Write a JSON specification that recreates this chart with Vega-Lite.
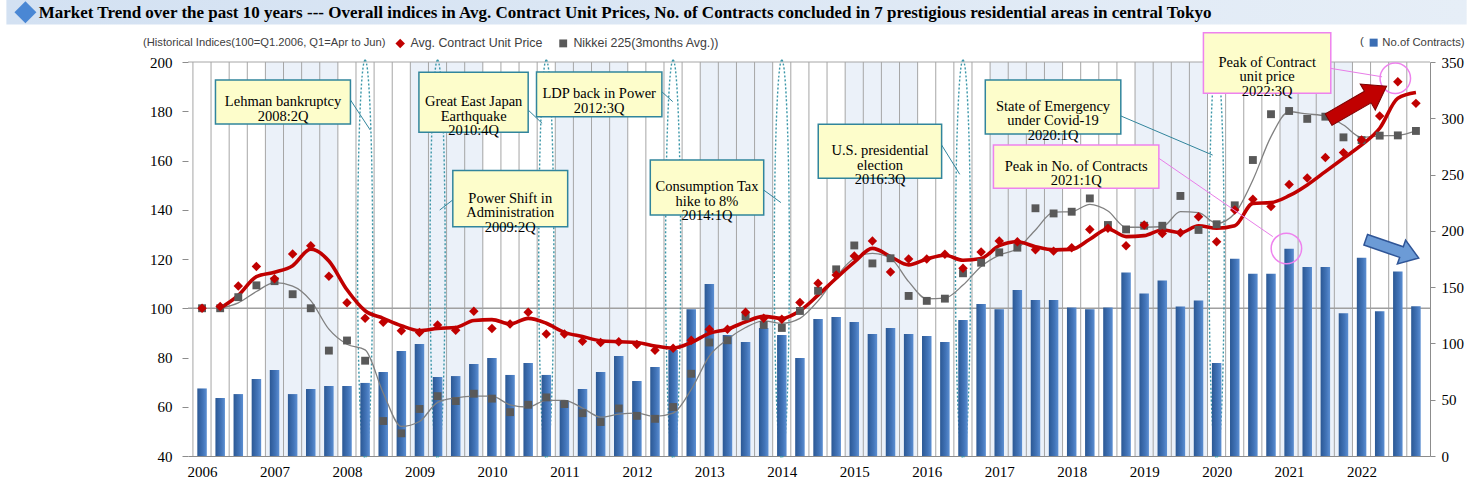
{
"$schema":"https://vega.github.io/schema/vega-lite/v6.json",
"width":1242,"height":394,
"autosize":{"type":"none"},
"padding":{"left":188,"top":62,"right":42,"bottom":28},
"background":"white",
"config":{"view":{"stroke":null},"font":"Liberation Serif"},
"datasets":{
"one":[{}],
"main":[
{"q":0,"p":100,"k":100,"pt":null,"kt":null,"n":60},
{"q":1,"p":100.7,"k":100,"pt":100,"kt":100,"n":51.5},
{"q":2,"p":109,"k":104.5,"pt":105.2,"kt":102.2,"n":55},
{"q":3,"p":117,"k":109.3,"pt":112.8,"kt":106.8,"n":68.4},
{"q":4,"p":112,"k":111,"pt":114.6,"kt":110.4,"n":76.4},
{"q":5,"p":122,"k":105.7,"pt":117.3,"kt":109,"n":55},
{"q":6,"p":125.4,"k":100,"pt":124,"kt":103.1,"n":59.5},
{"q":7,"p":113,"k":82.8,"pt":119.2,"kt":91.5,"n":62.2},
{"q":8,"p":102.2,"k":86.9,"pt":107.5,"kt":85.4,"n":62.2},
{"q":9,"p":95.9,"k":78.7,"pt":99,"kt":83.1,"n":64.9},
{"q":10,"p":94.3,"k":54.2,"pt":95.9,"kt":65.6,"n":74.6},
{"q":11,"p":90.9,"k":49.2,"pt":92.9,"kt":52,"n":93.3},
{"q":12,"p":90.2,"k":59.1,"pt":90.9,"kt":54,"n":99.5},
{"q":13,"p":93.2,"k":64.3,"pt":91.8,"kt":61.8,"n":70.2},
{"q":14,"p":91.1,"k":62.3,"pt":92.2,"kt":63.6,"n":71},
{"q":15,"p":98.8,"k":65.3,"pt":95,"kt":64.3,"n":81.7},
{"q":16,"p":91.8,"k":63.3,"pt":95.4,"kt":64.3,"n":87},
{"q":17,"p":93.6,"k":57.8,"pt":93.6,"kt":60.8,"n":72},
{"q":18,"p":98.4,"k":60.8,"pt":95.9,"kt":59.9,"n":82.6},
{"q":19,"p":89.5,"k":63.8,"pt":93.9,"kt":62.6,"n":72},
{"q":20,"p":89.5,"k":61.1,"pt":90.2,"kt":62.6,"n":49},
{"q":21,"p":86.6,"k":57.4,"pt":88.5,"kt":59.5,"n":59.5},
{"q":22,"p":86.1,"k":53.8,"pt":86.8,"kt":55.8,"n":74.6},
{"q":23,"p":86.4,"k":59.3,"pt":86.4,"kt":57,"n":88.8},
{"q":24,"p":85.3,"k":56.3,"pt":86.1,"kt":57.4,"n":66.6},
{"q":25,"p":82.9,"k":55.1,"pt":84.7,"kt":56.1,"n":79.1},
{"q":26,"p":83.8,"k":59.9,"pt":83.8,"kt":57.4,"n":94.2},
{"q":27,"p":87,"k":73.4,"pt":86.1,"kt":67,"n":130.3},
{"q":28,"p":91.5,"k":86.1,"pt":89.8,"kt":80.6,"n":152.8},
{"q":29,"p":91.5,"k":87,"pt":91.5,"kt":87.4,"n":107.5},
{"q":30,"p":98.4,"k":96.7,"pt":94.5,"kt":92.2,"n":101.3},
{"q":31,"p":95.9,"k":93.2,"pt":96.7,"kt":94.9,"n":113.7},
{"q":32,"p":95.5,"k":92,"pt":95.9,"kt":93.9,"n":107.5},
{"q":33,"p":102.3,"k":98.9,"pt":99,"kt":95.9,"n":87.1},
{"q":34,"p":110.2,"k":107.1,"pt":105.3,"kt":103,"n":121.7},
{"q":35,"p":113.5,"k":115.8,"pt":112.2,"kt":112.8,"n":123.5},
{"q":36,"p":121.2,"k":125.5,"pt":118.7,"kt":120.3,"n":119},
{"q":37,"p":127.3,"k":118.2,"pt":124.3,"kt":122.3,"n":108.4},
{"q":38,"p":114.7,"k":120.3,"pt":121,"kt":120.3,"n":113.7},
{"q":39,"p":120,"k":105,"pt":117.6,"kt":110.8,"n":108.4},
{"q":40,"p":120,"k":103,"pt":120,"kt":103.8,"n":106.6},
{"q":41,"p":121.9,"k":103.9,"pt":121.5,"kt":104.1,"n":101.3},
{"q":42,"p":116.2,"k":114.2,"pt":119.5,"kt":109.4,"n":120.8},
{"q":43,"p":122.8,"k":118.5,"pt":120.2,"kt":117,"n":135},
{"q":44,"p":127.3,"k":122.7,"pt":125.4,"kt":121.6,"n":130.3},
{"q":45,"p":127,"k":124.6,"pt":127,"kt":124.3,"n":147.5},
{"q":46,"p":123.8,"k":140.6,"pt":125,"kt":131.8,"n":138.6},
{"q":47,"p":123.2,"k":138.5,"pt":123.7,"kt":139,"n":138.6},
{"q":48,"p":124.6,"k":139.2,"pt":123.9,"kt":139.2,"n":132},
{"q":49,"p":132,"k":144.6,"pt":128,"kt":142.2,"n":130.3},
{"q":50,"p":132.5,"k":133.8,"pt":132.2,"kt":139.5,"n":132},
{"q":51,"p":125.4,"k":132,"pt":129.1,"kt":132.9,"n":163},
{"q":52,"p":133.8,"k":133.5,"pt":129.5,"kt":132.9,"n":144.4},
{"q":53,"p":130.4,"k":133.5,"pt":131.8,"kt":133.1,"n":155.9},
{"q":54,"p":130.7,"k":145.6,"pt":130.7,"kt":139.2,"n":132.9},
{"q":55,"p":137.2,"k":131.8,"pt":133.5,"kt":138.8,"n":138.2},
{"q":56,"p":127,"k":134.1,"pt":132.5,"kt":134.5,"n":82.6},
{"q":57,"p":139.9,"k":141.8,"pt":133.5,"kt":138.5,"n":175.3},
{"q":58,"p":144.3,"k":160.2,"pt":142.6,"kt":152.1,"n":162},
{"q":59,"p":141.3,"k":178.8,"pt":142.9,"kt":169.7,"n":162},
{"q":60,"p":150.3,"k":180.1,"pt":145.7,"kt":179.8,"n":184},
{"q":61,"p":152.9,"k":176.9,"pt":150.1,"kt":178.9,"n":168},
{"q":62,"p":161.2,"k":177.8,"pt":155.5,"kt":178.1,"n":168},
{"q":63,"p":163.2,"k":169.4,"pt":160.9,"kt":174.4,"n":126.8},
{"q":64,"p":168.3,"k":168.3,"pt":166.3,"kt":169.4,"n":176},
{"q":65,"p":178.1,"k":170.1,"pt":173.1,"kt":170,"n":128.5},
{"q":66,"p":192,"k":170.2,"pt":185.3,"kt":170.2,"n":163.8},
{"q":67,"p":183.2,"k":172,"pt":187.6,"kt":172,"n":133}
],
"shade":[
{"year":2007,"start":4,"end":7},{"year":2009,"start":12,"end":15},{"year":2011,"start":20,"end":23},{"year":2013,"start":28,"end":31},
{"year":2015,"start":36,"end":39},{"year":2017,"start":44,"end":47},{"year":2019,"start":52,"end":55},{"year":2021,"start":60,"end":63}
],
"notes":[
{"kind":"event","q":9,"lines":["Lehman bankruptcy","2008:2Q"],"x1":0.74,"x2":8.19,"y1":192.7,"y2":174.8,"tx":4.47,"ty":183.6,"lx1":8.19,"ly1":184.6,"lx2":9.28,"ly2":172.4},
{"kind":"event","q":19,"lines":["Great East Japan","Earthquake","2010:4Q"],"x1":11.97,"x2":18.0,"y1":195.8,"y2":171.5,"tx":14.99,"ty":183.6,"lx1":18.0,"ly1":180.5,"lx2":18.77,"ly2":175.1},
{"kind":"event","q":26,"lines":["LDP back in Power","2012:3Q"],"x1":18.46,"x2":25.38,"y1":195.9,"y2":177.8,"tx":21.92,"ty":186.9,"lx1":25.38,"ly1":187.9,"lx2":25.98,"ly2":183.9},
{"kind":"event","q":13,"lines":["Power Shift in","Administration","2009:2Q"],"x1":13.84,"x2":20.18,"y1":155.9,"y2":133.1,"tx":17.01,"ty":144.5,"lx1":13.84,"ly1":144,"lx2":13.12,"ly2":139.9},
{"kind":"event","q":32,"lines":["Consumption Tax","hike to 8%","2014:1Q"],"x1":24.74,"x2":31.0,"y1":160.2,"y2":137.9,"tx":27.87,"ty":149.05,"lx1":31.0,"ly1":148,"lx2":31.95,"ly2":142.9},
{"kind":"event","q":42,"lines":["U.S. presidential","election","2016:3Q"],"x1":34.01,"x2":40.82,"y1":174.7,"y2":152.8,"tx":37.42,"ty":163.75,"lx1":40.82,"ly1":166.3,"lx2":41.82,"ly2":154.4},
{"kind":"event","q":56,"lines":["State of Emergency","under Covid-19","2020:1Q"],"x1":43.23,"x2":50.71,"y1":192.7,"y2":170.8,"tx":46.97,"ty":181.75,"lx1":50.71,"ly1":178.1,"lx2":55.78,"ly2":162.2},
{"kind":"peak","q":60,"lines":["Peak in No. of Contracts","2021:1Q"],"x1":43.68,"x2":52.81,"y1":166.3,"y2":148.7,"tx":48.25,"ty":157.5,"lx1":52.81,"ly1":160.9,"lx2":59.1,"ly2":129.1,"cx":59.85,"cy":124.3},
{"kind":"peak","q":66,"lines":["Peak of Contract","unit price","2022:3Q"],"x1":55.27,"x2":62.3,"y1":211.9,"y2":187.3,"tx":58.79,"ty":199.6,"lx1":62.3,"ly1":197.4,"lx2":65.13,"ly2":194,"cx":65.86,"cy":193.4}
]
},
"layer":[
{"data":{"name":"shade"},
 "mark":{"type":"rect","xOffset":-9.13,"x2Offset":9.13,"color":"#EBF1F9"},
 "encoding":{
  "x":{"field":"start","type":"quantitative","scale":{"domain":[-0.5,67.5],"nice":false,"zero":false},"axis":null},
  "x2":{"field":"end"},
  "y":{"datum":40,"type":"quantitative","scale":{"domain":[40,200],"nice":false,"zero":false},"axis":null},
  "y2":{"datum":200}}},
{"data":{"name":"main"},
 "mark":{"type":"rule","xOffset":-9.13,"color":"#A6A6A6","strokeWidth":1},
 "encoding":{
  "x":{"field":"q","type":"quantitative","scale":{"domain":[-0.5,67.5],"nice":false,"zero":false},
       "axis":{"orient":"bottom","values":[0,4,8,12,16,20,24,28,32,36,40,44,48,52,56,60,64],"labelExpr":"'' + (2006 + datum.value/4)","title":null,"ticks":false,"grid":false,"domain":true,"domainColor":"#8C8C8C","domainWidth":1,"labelFont":"Liberation Serif","labelFontSize":15,"labelColor":"black","labelPadding":8,"labelOverlap":false,"labelFlush":false}},
  "y":{"datum":40,"type":"quantitative","scale":{"domain":[40,200],"nice":false,"zero":false},
       "axis":{"orient":"left","values":[40,60,80,100,120,140,160,180,200],"title":null,"domain":false,"grid":false,"ticks":true,"tickSize":6,"tickColor":"#8C8C8C","labelFont":"Liberation Serif","labelFontSize":15,"labelColor":"black","labelPadding":10}},
  "y2":{"datum":200}}},
{"data":{"name":"one"},
 "mark":{"type":"rule","color":"#A0A0A0","strokeWidth":1.5},
 "encoding":{"y":{"datum":100,"type":"quantitative","scale":{"domain":[40,200],"nice":false,"zero":false},"axis":null}}},
{"data":{"name":"one"},
 "mark":{"type":"rule","color":"#A6A6A6","strokeWidth":1},
 "encoding":{"y":{"datum":200,"type":"quantitative","scale":{"domain":[40,200],"nice":false,"zero":false},"axis":null}}},
{"data":{"name":"one"},
 "mark":{"type":"rect","color":{"gradient":"linear","x1":0,"y1":0,"x2":1,"y2":0,"stops":[{"offset":0,"color":"#D3E1F2"},{"offset":1,"color":"#E6EEF7"}]}},
 "encoding":{
  "x":{"datum":-10.8,"type":"quantitative","scale":{"domain":[-0.5,67.5],"nice":false,"zero":false},"axis":null},
  "x2":{"datum":69.8},
  "y":{"datum":225.2,"type":"quantitative","scale":{"domain":[40,200],"nice":false,"zero":false},"axis":null},
  "y2":{"datum":215.2}}},
{"data":{"name":"one"},
 "mark":{"type":"point","shape":"diamond","filled":true,"size":480,"color":"#4A87D4","opacity":1},
 "encoding":{
  "x":{"datum":-9.75,"type":"quantitative","scale":{"domain":[-0.5,67.5],"nice":false,"zero":false},"axis":null},
  "y":{"datum":220.2,"type":"quantitative","scale":{"domain":[40,200],"nice":false,"zero":false},"axis":null}}},
{"data":{"name":"one"},
 "mark":{"type":"text","text":"Market Trend over the past 10 years --- Overall indices in Avg. Contract Unit Prices, No. of Contracts concluded in 7 prestigious residential areas in central Tokyo","align":"left","baseline":"middle","font":"Liberation Serif","fontWeight":"bold","fontSize":17,"color":"black"},
 "encoding":{
  "x":{"datum":-9.02,"type":"quantitative","scale":{"domain":[-0.5,67.5],"nice":false,"zero":false},"axis":null},
  "y":{"datum":220.0,"type":"quantitative","scale":{"domain":[40,200],"nice":false,"zero":false},"axis":null}}},
{"data":{"name":"notes"},
 "transform":[{"filter":"datum.kind == 'event'"}],
 "mark":{"type":"point","filled":false,"shape":"M 0 -1 A 0.038 1 0 0 1 0 1 A 0.038 1 0 0 1 0 -1 Z","size":158404,"color":"#3A96A8","strokeWidth":1.4,"strokeDash":[2,2],"opacity":1},
 "encoding":{
  "x":{"field":"q","type":"quantitative","scale":{"domain":[-0.5,67.5],"nice":false,"zero":false},"axis":null},
  "y":{"datum":120,"type":"quantitative","scale":{"domain":[40,200],"nice":false,"zero":false},"axis":null}}},
{"data":{"name":"main"},
 "mark":{"type":"bar","size":9.5,"color":{"gradient":"linear","x1":0,"y1":0,"x2":1,"y2":0,"stops":[{"offset":0,"color":"#2B5894"},{"offset":0.6,"color":"#4274B8"},{"offset":1,"color":"#5C8FD2"}]}},
 "encoding":{
  "x":{"field":"q","type":"quantitative","scale":{"domain":[-0.5,67.5],"nice":false,"zero":false},"axis":null},
  "y":{"field":"n","type":"quantitative","scale":{"domain":[0,350],"nice":false,"zero":true},
       "axis":{"orient":"right","values":[0,50,100,150,200,250,300,350],"title":null,"domain":true,"domainColor":"#8C8C8C","grid":false,"tickSize":5,"tickColor":"#8C8C8C","labelFont":"Liberation Serif","labelFontSize":15,"labelColor":"black","labelPadding":6}}}},
{"data":{"name":"main"},
 "mark":{"type":"square","opacity":0,"size":10},
 "encoding":{
  "x":{"field":"q","type":"quantitative","scale":{"domain":[-0.5,67.5],"nice":false,"zero":false},"axis":null},
  "y":{"field":"n","type":"quantitative","scale":{"domain":[0,350],"nice":false},"axis":null},
  "color":{"datum":"No.of Contracts)","scale":{"range":["#3A6DB3"]},
   "legend":{"orient":"none","legendX":1172,"legendY":-25,"title":"(","titleOrient":"left","titleFont":"Liberation Sans","titleFontSize":11.5,"titleFontWeight":"normal","titleColor":"#404040","titlePadding":4,"symbolType":"square","symbolOpacity":1,"symbolSize":64,"labelFont":"Liberation Sans","labelFontSize":11.3,"labelColor":"#404040","labelOffset":3}}}},
{"data":{"name":"main"},
 "mark":{"type":"line","interpolate":"monotone","color":"#808080","strokeWidth":1.3},
 "encoding":{
  "x":{"field":"q","type":"quantitative","scale":{"domain":[-0.5,67.5],"nice":false,"zero":false},"axis":null},
  "y":{"field":"kt","type":"quantitative","scale":{"domain":[40,200],"nice":false,"zero":false},"axis":null}}},
{"data":{"name":"main"},
 "mark":{"type":"line","interpolate":"monotone","color":"#C00000","strokeWidth":3.6},
 "encoding":{
  "x":{"field":"q","type":"quantitative","scale":{"domain":[-0.5,67.5],"nice":false,"zero":false},"axis":null},
  "y":{"field":"pt","type":"quantitative","scale":{"domain":[40,200],"nice":false,"zero":false},"axis":null}}},
{"data":{"name":"main"},
 "transform":[{"fold":["k","p"],"as":["series","value"]}],
 "mark":{"type":"point","filled":true,"opacity":1},
 "encoding":{
  "x":{"field":"q","type":"quantitative","scale":{"domain":[-0.5,67.5],"nice":false,"zero":false},"axis":null},
  "y":{"field":"value","type":"quantitative","scale":{"domain":[40,200],"nice":false,"zero":false},"axis":null},
  "size":{"field":"series","type":"nominal","scale":{"domain":["p","k"],"range":[90,62]},"legend":null},
  "color":{"field":"series","type":"nominal","scale":{"domain":["p","k"],"range":["#C00000","#595959"]},
   "legend":{"orient":"none","legendX":-45,"legendY":-25,"direction":"horizontal","title":"(Historical Indices(100=Q1.2006, Q1=Apr to Jun)","titleLimit":600,"titleOrient":"left","titleFont":"Liberation Sans","titleFontSize":11.2,"titleFontWeight":"normal","titleColor":"#404040","titlePadding":8,"labelFont":"Liberation Sans","labelFontSize":12.4,"labelColor":"#404040","labelLimit":300,"symbolSize":70,"columnPadding":14,"labelExpr":"datum.value == 'p' ? 'Avg. Contract Unit Price' : 'Nikkei 225(3months Avg.))'"}},
  "shape":{"field":"series","type":"nominal","scale":{"domain":["p","k"],"range":["diamond","square"]},
   "legend":{"orient":"none","legendX":-45,"legendY":-25,"direction":"horizontal","title":"(Historical Indices(100=Q1.2006, Q1=Apr to Jun)","titleLimit":600,"titleOrient":"left","titleFont":"Liberation Sans","titleFontSize":11.2,"titleFontWeight":"normal","titleColor":"#404040","titlePadding":8,"labelFont":"Liberation Sans","labelFontSize":12.4,"labelColor":"#404040","labelLimit":300,"symbolSize":70,"columnPadding":14,"labelExpr":"datum.value == 'p' ? 'Avg. Contract Unit Price' : 'Nikkei 225(3months Avg.))'"}}}},
{"data":{"name":"notes"},
 "mark":{"type":"rule","strokeWidth":1},
 "encoding":{
  "x":{"field":"lx1","type":"quantitative","scale":{"domain":[-0.5,67.5],"nice":false,"zero":false},"axis":null},
  "x2":{"field":"lx2"},
  "y":{"field":"ly1","type":"quantitative","scale":{"domain":[40,200],"nice":false,"zero":false},"axis":null},
  "y2":{"field":"ly2"},
  "stroke":{"condition":{"test":"datum.kind == 'peak'","value":"#E87DE8"},"value":"#31859C"}}},
{"data":{"name":"notes"},
 "mark":{"type":"rect","fill":"#FDFDCB","strokeWidth":1.5},
 "encoding":{
  "x":{"field":"x1","type":"quantitative","scale":{"domain":[-0.5,67.5],"nice":false,"zero":false},"axis":null},
  "x2":{"field":"x2"},
  "y":{"field":"y1","type":"quantitative","scale":{"domain":[40,200],"nice":false,"zero":false},"axis":null},
  "y2":{"field":"y2"},
  "stroke":{"condition":{"test":"datum.kind == 'peak'","value":"#EE82EE"},"value":"#31859C"}}},
{"data":{"name":"notes"},
 "mark":{"type":"text","align":"center","baseline":"middle","font":"Liberation Serif","fontSize":14.5,"lineHeight":14.5,"color":"black"},
 "encoding":{
  "x":{"field":"tx","type":"quantitative","scale":{"domain":[-0.5,67.5],"nice":false,"zero":false},"axis":null},
  "y":{"field":"ty","type":"quantitative","scale":{"domain":[40,200],"nice":false,"zero":false},"axis":null},
  "text":{"field":"lines","type":"nominal"}}},
{"data":{"name":"notes"},
 "transform":[{"filter":"datum.kind == 'peak'"}],
 "mark":{"type":"point","shape":"circle","filled":false,"size":930,"color":"#EE82EE","strokeWidth":1.5,"opacity":1},
 "encoding":{
  "x":{"field":"cx","type":"quantitative","scale":{"domain":[-0.5,67.5],"nice":false,"zero":false},"axis":null},
  "y":{"field":"cy","type":"quantitative","scale":{"domain":[40,200],"nice":false,"zero":false},"axis":null}}},
{"data":{"name":"one"},
 "mark":{"type":"point","filled":true,"shape":"M -1 -0.2 L 0.35 -0.2 L 0.35 -0.45 L 1 0 L 0.35 0.45 L 0.35 0.2 L -1 0.2 Z","size":4489,"angle":330,"fill":"#C00000","stroke":"#7A0000","strokeWidth":1,"opacity":1},
 "encoding":{
  "x":{"datum":63.78,"type":"quantitative","scale":{"domain":[-0.5,67.5],"nice":false,"zero":false},"axis":null},
  "y":{"datum":183.4,"type":"quantitative","scale":{"domain":[40,200],"nice":false,"zero":false},"axis":null}}},
{"data":{"name":"one"},
 "mark":{"type":"point","filled":true,"shape":"M -1 -0.2 L 0.35 -0.2 L 0.35 -0.45 L 1 0 L 0.35 0.45 L 0.35 0.2 L -1 0.2 Z","size":3136,"angle":19,"fill":"#6C9BD6","stroke":"#2F5597","strokeWidth":1.5,"opacity":1},
 "encoding":{
  "x":{"datum":65.69,"type":"quantitative","scale":{"domain":[-0.5,67.5],"nice":false,"zero":false},"axis":null},
  "y":{"datum":124.1,"type":"quantitative","scale":{"domain":[40,200],"nice":false,"zero":false},"axis":null}}}
],
"resolve":{"scale":{"y":"independent","color":"independent","shape":"independent","size":"independent"},"axis":{"x":"independent"}}
}
